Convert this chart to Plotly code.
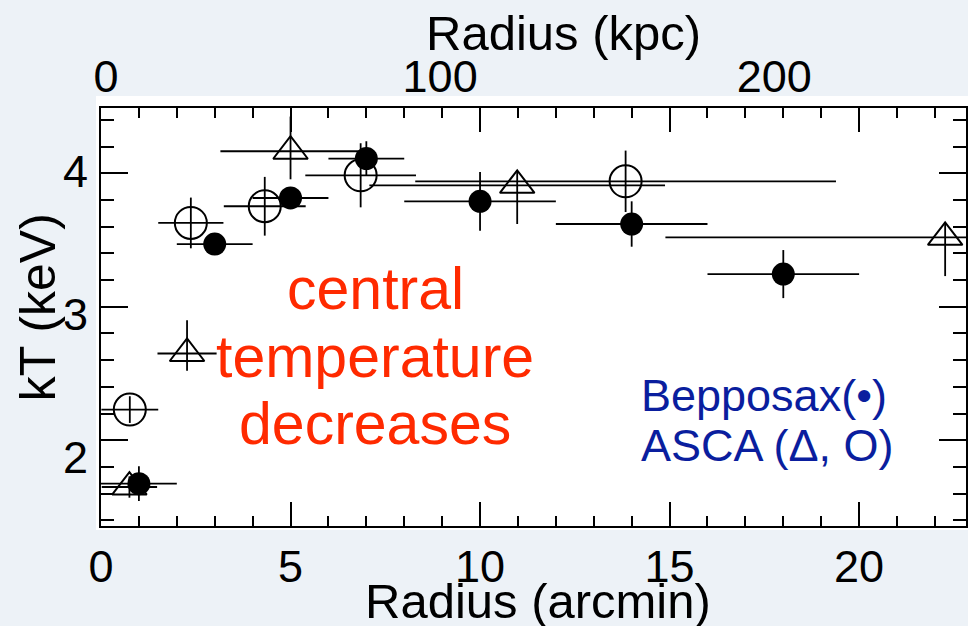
import plotly.graph_objects as go

# ---------------- data ----------------
# BeppoSAX (filled circles)
sax_r = [1.0, 3.0, 5.0, 7.0, 10.0, 14.0, 18.0]
sax_r_err = [1.0, 1.0, 1.0, 1.0, 2.0, 2.0, 2.0]
sax_kt = [1.675, 3.47, 3.815, 4.11, 3.79, 3.62, 3.245]
sax_kt_err = [0.13, 0.07, 0.07, 0.13, 0.22, 0.17, 0.18]

# ASCA (open triangles)
tri_r = [0.75, 2.27, 5.0, 10.98, 22.27]
tri_r_err = [0.73, 0.78, 1.85, 3.9, 7.38]
tri_kt = [1.65, 2.65, 4.165, 3.91, 3.52]
tri_kt_err_plus = [0.08, 0.25, 0.26, 0.10, 0.10]
tri_kt_err_minus = [0.08, 0.13, 0.21, 0.29, 0.29]

# ASCA (open circles)
circ_r = [0.76, 2.37, 4.32, 6.85, 13.84]
circ_r_err = [0.75, 0.86, 1.08, 1.46, 5.55]
circ_kt = [2.23, 3.628, 3.753, 3.985, 3.94]
circ_kt_err = [0.10, 0.19, 0.22, 0.24, 0.23]

# axis ticks
arcmin_ticks = [0, 5, 10, 15, 20]
kpc_ticks = [0, 100, 200]
kev_ticks = [2, 3, 4]

# ---------------- styling ----------------
FONT = "Liberation Sans, Arial, Helvetica, sans-serif"
BG = "#edf2f7"
RED = "#ff2a00"
BLUE = "#0a1e9e"
ERR_W = 1.8

fig = go.Figure()

def err(arr, arr_minus=None):
    d = dict(type="data", array=arr, color="black", thickness=ERR_W, width=0, visible=True)
    if arr_minus is not None:
        d["symmetric"] = False
        d["arrayminus"] = arr_minus
    return d

fig.add_trace(go.Scatter(
    x=circ_r, y=circ_kt, mode="markers", name="ASCA (O)",
    error_x=err(circ_r_err), error_y=err(circ_kt_err),
    marker=dict(symbol="circle-open", size=32, color="black", line=dict(width=2, color="black")),
    showlegend=False))

fig.add_trace(go.Scatter(
    x=tri_r, y=tri_kt, mode="markers", name="ASCA (Δ)",
    error_x=err(tri_r_err), error_y=err(tri_kt_err_plus, tri_kt_err_minus),
    marker=dict(symbol="triangle-up-open", size=30, color="black", line=dict(width=2, color="black")),
    showlegend=False))

fig.add_trace(go.Scatter(
    x=sax_r, y=sax_kt, mode="markers", name="BeppoSAX",
    error_x=err(sax_r_err), error_y=err(sax_kt_err),
    marker=dict(symbol="circle", size=23, color="black"),
    showlegend=False))

# empty traces so the label-only axes are drawn
fig.add_trace(go.Scatter(x=[], y=[], xaxis="x2", yaxis="y", showlegend=False, hoverinfo="skip"))
fig.add_trace(go.Scatter(x=[], y=[], xaxis="x", yaxis="y3", showlegend=False, hoverinfo="skip"))

W, H = 968, 626
ML, MR, MT, MB = 101, 0, 108, 100
PW, PH = W - ML - MR, H - MT - MB


def px(xp):
    return (xp - ML) / PW


def py(yp):
    return (H - MB - yp) / PH


tickfont = dict(family=FONT, size=45, color="black")

fig.update_layout(
    width=W, height=H,
    margin=dict(l=ML, r=MR, t=MT, b=MB, pad=0),
    paper_bgcolor=BG, plot_bgcolor="white",
    font=dict(family=FONT, color="black"),
    showlegend=False,
    xaxis=dict(
        range=[0, 22.82], tick0=0, dtick=5, tickvals=arcmin_ticks,
        ticks="inside", ticklen=24, tickwidth=1.8, tickcolor="black",
        minor=dict(dtick=1, tick0=0, ticks="inside", ticklen=10, tickwidth=1.5, tickcolor="black"),
        showline=True, linecolor="black", linewidth=2, mirror="ticks",
        showgrid=False, zeroline=False, tickfont=tickfont, ticklabelstandoff=0,
    ),
    xaxis2=dict(
        overlaying="x", side="top", anchor="y",
        range=[-1.5, 257.4], tickvals=kpc_ticks, ticks="",
        showline=False, showgrid=False, zeroline=False,
        tickfont=tickfont, ticklabelstandoff=6,
    ),
    yaxis=dict(
        range=[1.358, 4.489], tick0=0, dtick=1,
        ticks="inside", ticklen=27, tickwidth=1.8, tickcolor="black",
        minor=dict(dtick=0.2, tick0=0, ticks="inside", ticklen=13, tickwidth=1.5, tickcolor="black"),
        showline=True, linecolor="black", linewidth=2, mirror="ticks",
        showgrid=False, zeroline=False, showticklabels=False,
    ),
    yaxis3=dict(
        overlaying="y", side="left", anchor="x",
        range=[1.5196, 4.4427], tickvals=kev_ticks, ticks="",
        showline=False, showgrid=False, zeroline=False,
        tickfont=tickfont, ticklabelstandoff=12,
    ),
)

# white panel behind the frame
fig.add_shape(type="rect", xref="paper", yref="paper",
              x0=px(96), x1=px(975), y0=py(530), y1=py(96),
              fillcolor="white", line=dict(width=0), layer="below")

ann = []
# axis titles
ann.append(dict(text="Radius (kpc)", x=px(565), y=py(33), font=dict(size=49)))
ann.append(dict(text="Radius (arcmin)", x=px(539), y=py(601), font=dict(size=49)))
ann.append(dict(text="kT (keV)", x=px(38), y=py(307), font=dict(size=50), textangle=-90))
# red annotation
for txt, yy in [("central", 289), ("temperature", 357), ("decreases", 424)]:
    ann.append(dict(text=txt, x=px(376), y=py(yy), font=dict(size=59, color=RED)))
# blue legend text
for txt, yy in [("Bepposax(•)", 395), ("ASCA (Δ, O)", 445)]:
    ann.append(dict(text=txt, x=px(640), y=py(yy), xanchor="left", font=dict(size=45, color=BLUE)))

for a in ann:
    a.setdefault("xanchor", "center")
    a.update(xref="paper", yref="paper", yanchor="middle", showarrow=False)
    f = a["font"]
    f.setdefault("family", FONT)
    f.setdefault("color", "black")
    fig.add_annotation(**a)

fig.write_html(
    "out.html",
    config={"displayModeBar": False},
    post_script="document.body.style.margin='0';document.body.style.overflow='hidden';",
)
